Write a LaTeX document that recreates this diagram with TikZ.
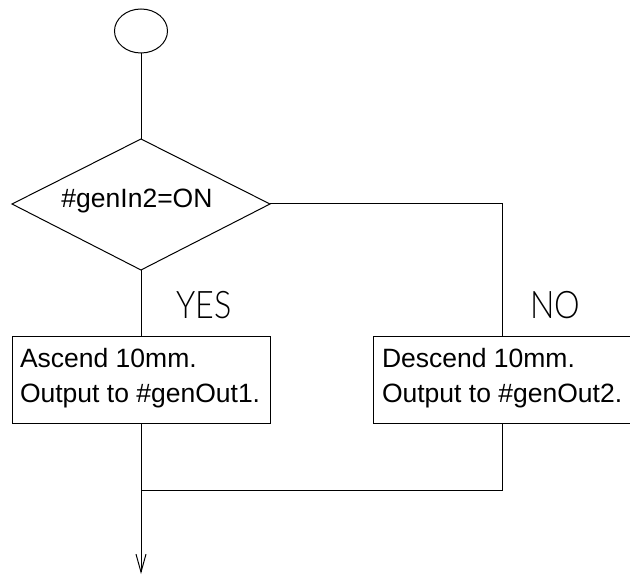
\documentclass[tikz,border=0pt]{standalone}
\usepackage{fontspec}
\setmainfont{Liberation Sans}
\newfontfamily\cadfont{Lato}[UprightFont={* Light}]
\usetikzlibrary{shapes.geometric,arrows.meta}
\begin{document}
\begin{tikzpicture}[x=1pt,y=-1pt,
  line width=1pt,
  every node/.style={inner sep=0pt, outer sep=0pt},
  flowline/.style={draw=black},
  procbox/.style={draw=black, minimum width=258pt, minimum height=87pt, anchor=north west},
  boxtext/.style={font=\fontsize{26.5}{30}\selectfont, anchor=base west},
  branchlbl/.style={font=\fontsize{38}{40}\cadfont, xscale=0.85, anchor=base}]
\useasboundingbox (0,0) rectangle (630,575);
\clip (0,0) rectangle (630,575);

% start terminal
\node[draw, ellipse, minimum width=53pt, minimum height=44pt] (start) at (141,31) {};

% decision diamond
\coordinate (dtop) at (141,139);
\coordinate (dleft) at (12,204);
\coordinate (dright) at (270,204);
\coordinate (dbot) at (141,270);
\draw (dtop) -- (dright) -- (dbot) -- (dleft) -- cycle;
\node[font=\fontsize{26.5}{30}\selectfont, anchor=base] (cond) at (137,208) {\#genIn2=ON};

% process boxes
\node[procbox] (yesbox) at (12,336) {};
\node[procbox] (nobox) at (373,336) {};
\node[boxtext] (yes1) at (20,367) {Ascend 10mm.};
\node[boxtext] (yes2) at (20,402) {Output to \#genOut1.};
\node[boxtext] (no1) at (382,367) {Descend 10mm.};
\node[boxtext] (no2) at (382,402) {Output to \#genOut2.};

% branch labels
\node[branchlbl] (yeslbl) at (204,318) {YES};
\node[branchlbl] (nolbl) at (555,318) {NO};

% connectors
\coordinate (joinR) at (502,204);
\coordinate (mergeR) at (502,490);
\coordinate (merge) at (141,490);
\coordinate (endpt) at (141,574);
\draw[flowline] (start.south) -- (dtop);
\draw[flowline] (dbot) -- (yesbox.north -| dbot);
\draw[flowline] (dright) -- (joinR) -- (nobox.north -| joinR);
\draw[flowline] (nobox.south -| joinR) -- (mergeR) -- (merge);
\draw[flowline, -{Straight Barb[length=18pt, width=10pt, line width=1pt]}] (yesbox.south -| dbot) -- (endpt);
\end{tikzpicture}
\end{document}
